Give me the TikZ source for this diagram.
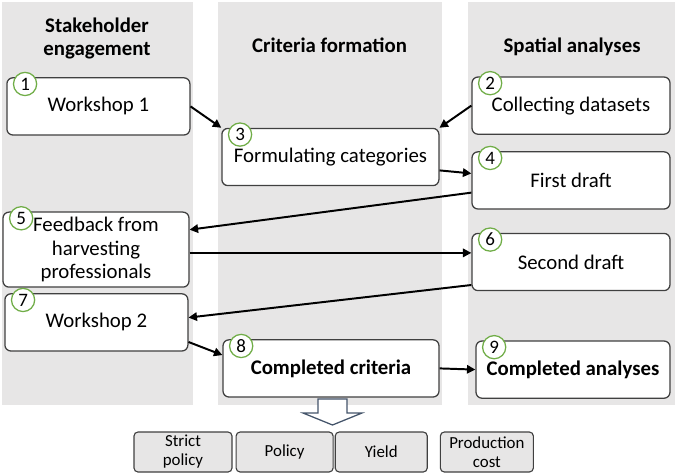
\documentclass[tikz,border=0pt]{standalone}
\usepackage{fontspec}
\setmainfont{Carlito}
\usetikzlibrary{positioning,arrows.meta}
\definecolor{colbg}{RGB}{231,230,230}
\definecolor{boxline}{RGB}{64,64,64}
\definecolor{numgreen}{RGB}{112,173,71}
\definecolor{bigarrow}{RGB}{68,84,106}

\begin{document}
\begin{tikzpicture}[
    stage/.style={draw=boxline, line width=0.9pt, fill=white, rounded corners=0.15cm,
        minimum height=1.43cm, align=center, inner sep=1pt,
        font=\fontsize{14.8}{16.5}\selectfont},
    stagebold/.style={stage, font=\fontsize{14.8}{16.5}\selectfont\bfseries},
    num/.style={circle, draw=numgreen, line width=0.9pt, fill=white, inner sep=0pt,
        minimum size=0.58cm, font=\fontsize{13.5}{14}\selectfont},
    outcome/.style={draw=boxline, line width=0.8pt, fill=colbg, rounded corners=0.1cm,
        minimum height=1cm, align=center, inner sep=1pt,
        font=\fontsize{12}{13.5}\selectfont},
    head/.style={align=center, font=\fontsize{14.8}{16.3}\selectfont\bfseries},
    flow/.style={-{Triangle[length=6pt,width=6pt]}, line width=1.4pt}
]
    \useasboundingbox (0,0) rectangle (16.875,-11.85);

    \fill[colbg] (0.05,-0.05) rectangle (4.825,-10.125);
    \fill[colbg] (5.45,-0.05) rectangle (11.05,-10.125);
    \fill[colbg] (11.7,-0.05) rectangle (16.875,-10.125);

    \node[head] (stakehead) at (2.425,-0.96) {Stakeholder\\engagement};
    \node[head, anchor=base] (crithead) at (8.24,-1.3) {Criteria formation};
    \node[head, anchor=base] (spathead) at (14.3,-1.3) {Spatial analyses};

    \node[stage, minimum width=4.575cm] (ws1) at (2.46,-2.66) {Workshop 1};
    \node[stage, minimum width=4.95cm] (coll) at (14.275,-2.64) {Collecting datasets};
    \node[stage, minimum width=5.425cm] (form) at (8.26,-3.925) {Formulating categories};
    \node[stage, minimum width=4.95cm] (fdraft) at (14.275,-4.51) {First draft};
    \node[stage, minimum width=4.65cm, minimum height=1.875cm] (feed) at (2.4,-6.24)
        {Feedback from\\harvesting\\professionals};
    \node[stage, minimum width=4.95cm] (sdraft) at (14.275,-6.55) {Second draft};
    \node[stage, minimum width=4.575cm] (ws2) at (2.41,-8.06) {Workshop 2};
    \node[stagebold, minimum width=5.4cm] (crit) at (8.275,-9.21) {Completed criteria};
    \node[stagebold, minimum width=4.85cm] (ana) at (14.325,-9.24) {Completed analyses};

    \foreach \b/\n in {ws1/1, coll/2, form/3, fdraft/4, feed/5, sdraft/6, ws2/7, crit/8, ana/9}
        \node[num] (num\n) at ([shift={(0.47,-0.17)}]\b.north west) {\n};

    \draw[flow] (ws1.east) -- (form.north west);
    \draw[flow] (coll.west) -- (form.north east);
    \draw[flow] (form.-7) -- (fdraft.176);
    \draw[flow] (fdraft.187) -- (feed.12);
    \draw[flow] (feed.-2) -- (feed.-2 -| sdraft.west);
    \draw[flow] (sdraft.193) -- (ws2.3);
    \draw[flow] (ws2.-12) -- (crit.173);
    \draw[flow] (crit.east) -- (ana.west);

    \draw[bigarrow, line width=0.9pt, fill=white]
        (7.95,-9.975) -- (8.675,-9.975) -- (8.675,-10.325) -- (9.05,-10.325)
        -- (8.3125,-10.625) -- (7.575,-10.325) -- (7.95,-10.325) -- cycle;

    \node[outcome, minimum width=2.45cm] (strict) at (4.575,-11.3) {Strict\\policy};
    \node[outcome, minimum width=2.425cm, right=0.075cm of strict] (policy) {Policy};
    \node[outcome, minimum width=2.3cm, right=0.025cm of policy] (yield) {Yield};
    \node[outcome, minimum width=2.325cm, right=0.3cm of yield] (prodcost) {Production\\cost};
\end{tikzpicture}
\end{document}
